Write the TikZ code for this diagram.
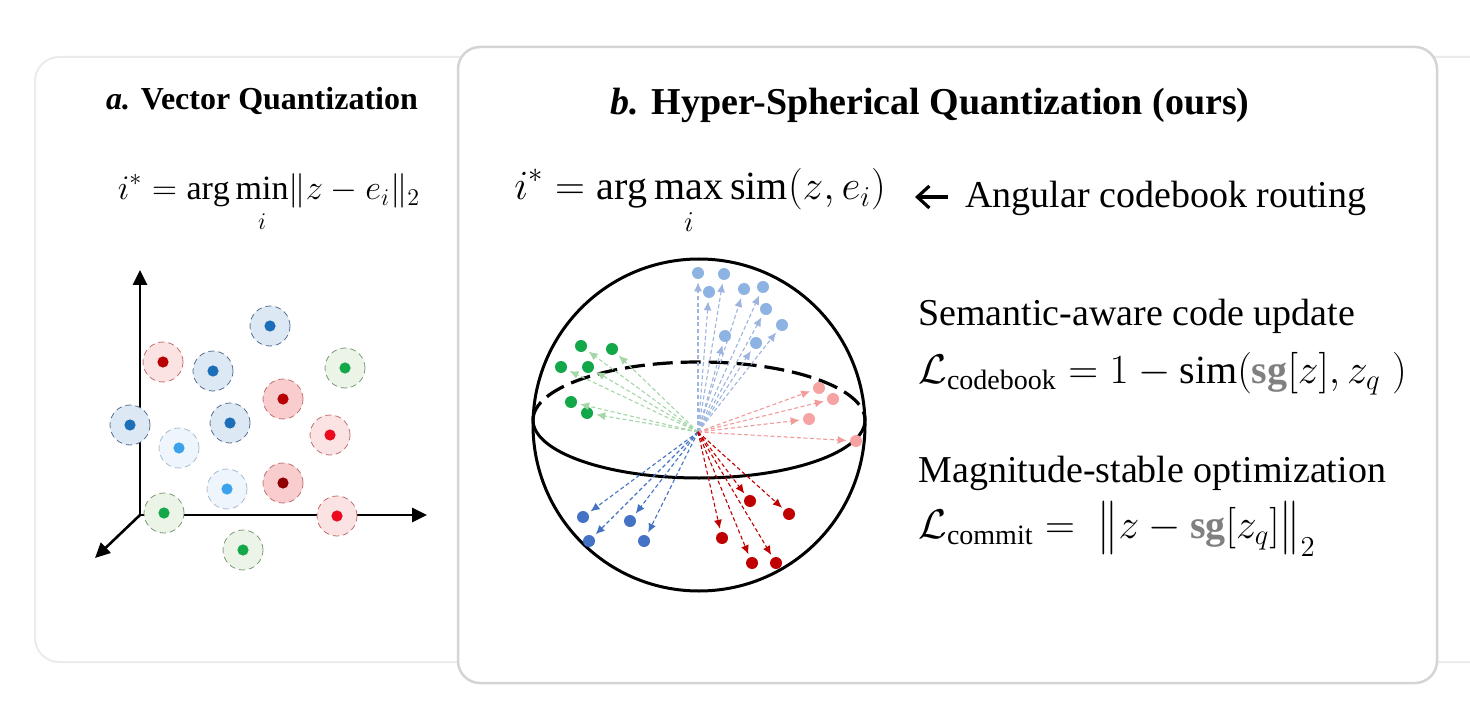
\documentclass[tikz,border=0pt]{standalone}
\usepackage{amsmath}
\usepackage{graphicx}
\usepackage{fontspec}
\setmainfont{Liberation Serif}
\usetikzlibrary{arrows.meta,positioning}

\definecolor{panelrim}{HTML}{EBEBEB}
\definecolor{oursrim}{HTML}{D4D4D4}
\definecolor{sggray}{HTML}{808080}
% left panel colours
\definecolor{vqblue}{HTML}{1C6EB8}
\definecolor{vqsky}{HTML}{3BA3EC}
\definecolor{vqred}{HTML}{B80000}
\definecolor{vqmaroon}{HTML}{8E0000}
\definecolor{vqbright}{HTML}{EC0A1E}
\definecolor{vqgreen}{HTML}{14A84A}
\definecolor{haloblue}{HTML}{DCE8F4}
\definecolor{rimblue}{HTML}{5A7090}
\definecolor{halosky}{HTML}{EEF5FC}
\definecolor{rimsky}{HTML}{A8BCD0}
\definecolor{halopink}{HTML}{FCE3E3}
\definecolor{halorose}{HTML}{F9CDCD}
\definecolor{rimred}{HTML}{C07070}
\definecolor{halogreen}{HTML}{EBF4E6}
\definecolor{rimgreen}{HTML}{7A9A7A}
% sphere colours
\definecolor{hsky}{HTML}{8DB3E2}
\definecolor{hskyline}{HTML}{9DB5DE}
\definecolor{hgreen}{HTML}{12A84A}
\definecolor{hgreenline}{HTML}{A5D6A7}
\definecolor{hpink}{HTML}{F5A3A3}
\definecolor{hpinkline}{HTML}{F19B9B}
\definecolor{hblue}{HTML}{4472C4}
\definecolor{hred}{HTML}{C00000}

% tall norm bar, lowered limit index
\newcommand{\tallbar}{\mathord{\raisebox{-0.2ex}{\scalebox{1}[1.3]{$\lVert$}}}}
\newcommand{\lowi}{\rule{0pt}{12pt}i}

\tikzset{
  panel/.style={rounded corners=12pt, line width=1pt, draw=panelrim, fill=white},
  ours/.style={rounded corners=11pt, line width=1.25pt, draw=oursrim, fill=white},
  axis/.style={line width=1.3pt, -{Triangle[length=7.5pt,width=7pt]}},
  cw/.style n args={3}{circle, minimum size=20pt, inner sep=0pt, fill=#2, draw=#3,
    densely dashed, line width=0.4pt,
    path picture={\fill[#1] (path picture bounding box.center) circle (2.8pt);}},
  hp/.style={circle, minimum size=6pt, inner sep=0pt, fill=#1},
  vec/.style={line width=0.55pt, dash pattern=on 2pt off 1.3pt, shorten >=1.5pt,
    -{Latex[length=4.5pt,width=4pt]}, draw=#1},
  body/.style={font=\fontsize{19}{23}\selectfont, inner sep=0pt},
  maths/.style={font=\fontsize{20}{24}\selectfont, inner sep=0pt},
}

\begin{document}
\begin{tikzpicture}[x=0.5pt, y=-0.5pt]
  \useasboundingbox (0,0) rectangle (1470,716);

  % panels
  \draw[panel] (1400,57) rectangle (1800,662);
  \draw[panel] (35,57) rectangle (1000,662);
  \draw[ours] (458,47) rectangle (1437,683);

  % titles
  \node[anchor=base, inner sep=0pt, font=\fontsize{16}{19}\selectfont] (ta) at (262,110)
    {\textbf{\textit{a.} Vector Quantization}};
  \node[anchor=base, inner sep=0pt, font=\fontsize{19}{23}\selectfont] (tb) at (930,115)
    {\textbf{\textit{b.} Hyper-Spherical Quantization (ours)}};

  % routing formulas
  \node[anchor=base, inner sep=0pt, font=\fontsize{17}{20}\selectfont] (eqa) at (269,200)
    {$\displaystyle i^{*} = \arg\min_{\lowi} \lVert z - e_i \rVert_2$};
  \node[maths, anchor=base] (eqb) at (700,200)
    {$\displaystyle i^{*} = \arg\max_{\lowi} \mathrm{sim}(z, e_i)$};
  \node[body, anchor=base west] (route) at (965,208) {Angular codebook routing};
  \coordinate (ra) at (948,197);
  \coordinate (rb) at (915,197);
  \draw[line width=1.6pt, -{Straight Barb[length=6pt,width=11pt]}] (ra) -- (rb);

  % losses
  \node[body, anchor=base west] (upd) at (918,326) {Semantic-aware code update};
  \node[maths, anchor=base west] (lcb) at (918,383)
    {$\mathcal{L}_{\mathrm{codebook}} = 1 - \mathrm{sim}(\textcolor{sggray}{\mathbf{sg}}[z], z_q\;)$};
  \node[body, anchor=base west] (mag) at (918,482) {Magnitude-stable optimization};
  \node[maths, anchor=base west] (lcm) at (918,538)
    {$\mathcal{L}_{\mathrm{commit}} = \;\tallbar z - \textcolor{sggray}{\mathbf{sg}}[z_q]\tallbar_2$};

  % vector quantization axes
  \coordinate (orig) at (140,515);
  \coordinate (ytip) at (140,270);
  \coordinate (xtip) at (427,515);
  \coordinate (ztip) at (95,558);
  \draw[axis] (orig) -- (ytip);
  \draw[axis] (orig) -- (xtip);
  \draw[axis] (orig) -- (ztip);

  % codewords
  \node[cw={vqblue}{haloblue}{rimblue}] (a1) at (270,326) {};
  \node[cw={vqred}{halopink}{rimred}] (a2) at (163,362) {};
  \node[cw={vqblue}{haloblue}{rimblue}] (a3) at (213,371) {};
  \node[cw={vqgreen}{halogreen}{rimgreen}] (a4) at (345,368) {};
  \node[cw={vqred}{halorose}{rimred}] (a5) at (283,399) {};
  \node[cw={vqblue}{haloblue}{rimblue}] (a6) at (130,425) {};
  \node[cw={vqblue}{haloblue}{rimblue}] (a7) at (230,423) {};
  \node[cw={vqbright}{halopink}{rimred}] (a8) at (330,435) {};
  \node[cw={vqsky}{halosky}{rimsky}] (a9) at (179,448) {};
  \node[cw={vqsky}{halosky}{rimsky}] (a10) at (227,489) {};
  \node[cw={vqmaroon}{halorose}{rimred}] (a11) at (283,483) {};
  \node[cw={vqgreen}{halogreen}{rimgreen}] (a12) at (164,513) {};
  \node[cw={vqbright}{halopink}{rimred}] (a13) at (337,516) {};
  \node[cw={vqgreen}{halogreen}{rimgreen}] (a14) at (243,550) {};

  % hypersphere
  \coordinate (o) at (698,432);
  \draw[line width=1.5pt] (699,425) circle (83pt);
  \draw[line width=1.5pt] (533,420) arc[start angle=180, end angle=360, x radius=83pt, y radius=29pt];
  \draw[line width=1.6pt, dash pattern=on 10pt off 4pt] (533,420)
    arc[start angle=180, end angle=0, x radius=83pt, y radius=29pt];

  \draw
    (698,273) node[hp=hsky] (l1) {}
    (724,274) node[hp=hsky] (l2) {}
    (709,292) node[hp=hsky] (l3) {}
    (744,289) node[hp=hsky] (l4) {}
    (763,287) node[hp=hsky] (l5) {}
    (766,309) node[hp=hsky] (l6) {}
    (782,325) node[hp=hsky] (l7) {}
    (725,336) node[hp=hsky] (l8) {}
    (756,343) node[hp=hsky] (l9) {}
    (581,346) node[hp=hgreen] (g1) {}
    (612,349) node[hp=hgreen] (g2) {}
    (561,367) node[hp=hgreen] (g3) {}
    (588,367) node[hp=hgreen] (g4) {}
    (571,402) node[hp=hgreen] (g5) {}
    (587,413) node[hp=hgreen] (g6) {}
    (819,388) node[hp=hpink] (p1) {}
    (833,399) node[hp=hpink] (p2) {}
    (809,419) node[hp=hpink] (p3) {}
    (856,441) node[hp=hpink] (p4) {}
    (583,517) node[hp=hblue] (b1) {}
    (589,541) node[hp=hblue] (b2) {}
    (630,521) node[hp=hblue] (b3) {}
    (644,541) node[hp=hblue] (b4) {}
    (750,501) node[hp=hred] (r1) {}
    (789,514) node[hp=hred] (r2) {}
    (722,538) node[hp=hred] (r3) {}
    (752,563) node[hp=hred] (r4) {}
    (776,563) node[hp=hred] (r5) {};
  \begin{scope}[vec=hskyline]
    \draw (o) to (l1);
    \draw (o) to (l2);
    \draw (o) to (l3);
    \draw (o) to (l4);
    \draw (o) to (l5);
    \draw (o) to (l6);
    \draw (o) to (l7);
    \draw (o) to (l8);
    \draw (o) to (l9);
  \end{scope}
  \begin{scope}[vec=hgreenline]
    \draw (o) to (g1);
    \draw (o) to (g2);
    \draw (o) to (g3);
    \draw (o) to (g4);
    \draw (o) to (g5);
    \draw (o) to (g6);
  \end{scope}
  \begin{scope}[vec=hpinkline]
    \draw (o) to (p1);
    \draw (o) to (p2);
    \draw (o) to (p3);
    \draw (o) to (p4);
  \end{scope}
  \begin{scope}[vec=hblue]
    \draw (o) to (b1);
    \draw (o) to (b2);
    \draw (o) to (b3);
    \draw (o) to (b4);
  \end{scope}
  \begin{scope}[vec=hred]
    \draw (o) to (r1);
    \draw (o) to (r2);
    \draw (o) to (r3);
    \draw (o) to (r4);
    \draw (o) to (r5);
  \end{scope}
\end{tikzpicture}
\end{document}
